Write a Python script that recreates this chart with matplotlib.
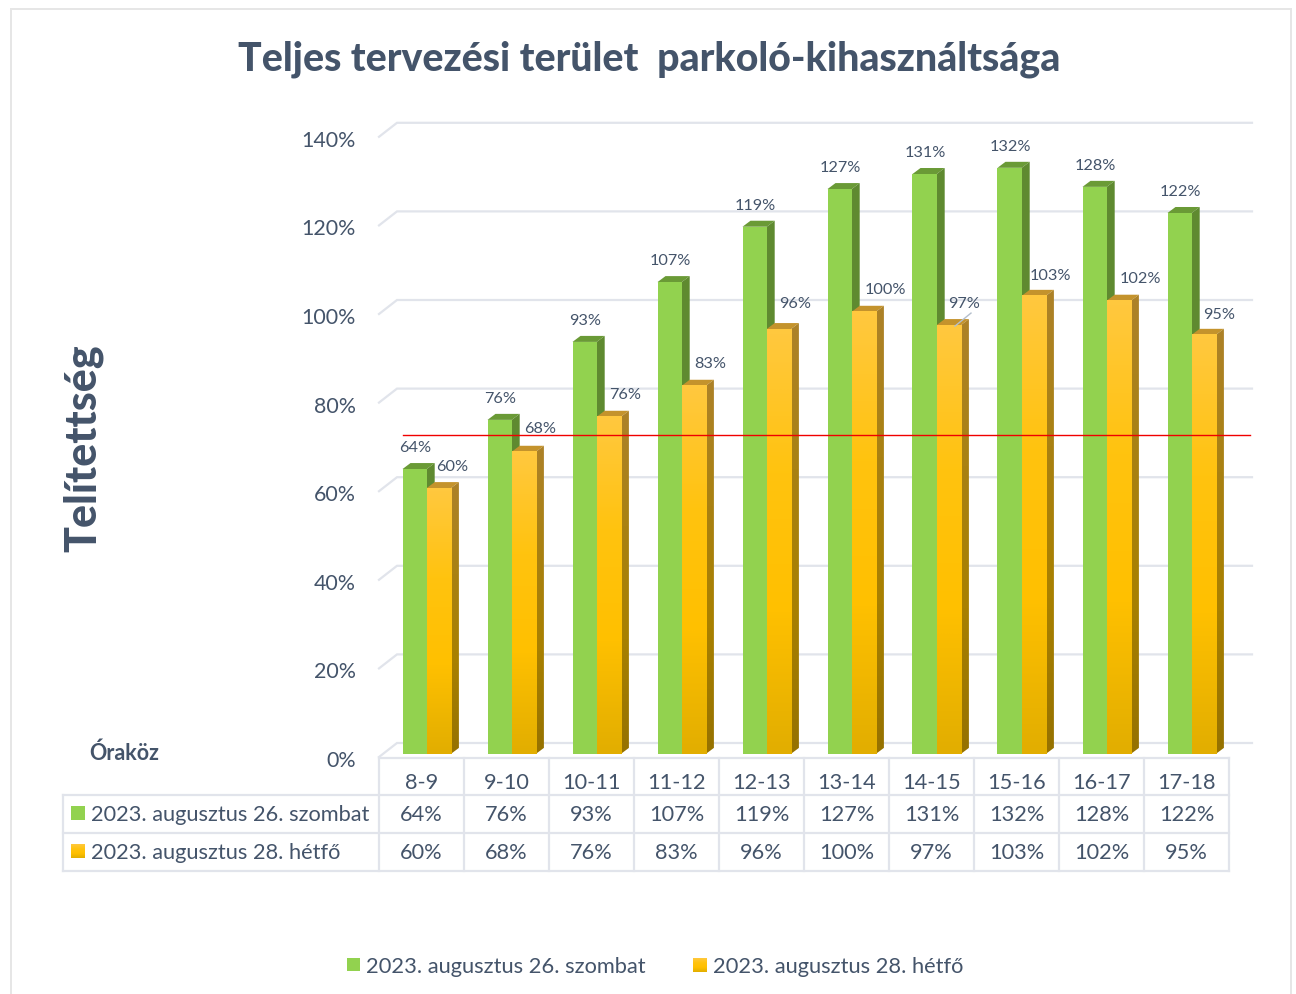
import matplotlib
matplotlib.use("Agg")
import matplotlib.pyplot as plt
import numpy as np
from matplotlib.colors import LinearSegmentedColormap
from matplotlib.patches import Polygon
from matplotlib.transforms import ScaledTranslation

plt.rcParams['font.family'] = ['Lato', 'DejaVu Sans']

hours = ["8-9", "9-10", "10-11", "11-12", "12-13", "13-14", "14-15", "15-16", "16-17", "17-18"]
# printed values
saturday = [64, 76, 93, 107, 119, 127, 131, 132, 128, 122]
monday = [60, 68, 76, 83, 96, 100, 97, 103, 102, 95]
# bar heights
saturday_bars = [64.0, 75.1, 92.7, 106.2, 118.7, 127.2, 130.6, 132.0, 127.7, 121.8]
monday_bars = [59.7, 67.9, 75.8, 82.8, 95.6, 99.5, 96.5, 103.1, 102.0, 94.3]
y_ticks = [0, 20, 40, 60, 80, 100, 120, 140]
limit_line = 72.7

sat_name = "2023. augusztus 26. szombat"
mon_name = "2023. augusztus 28. hétfő"

W, H = 1296, 995
TEXT = "#44546A"
GRID = "#E1E4EB"
GREEN = "#92D24F"

# layout of the fake 3D chart, in pixels of the picture
PX_CAT = 85.0
PX_Y = 4.43
LEFT, BOTTOM, RIGHT, TOP = 379, 758, 1252, 115

yellow_front = LinearSegmentedColormap.from_list("yf", ["#FFC83E", "#FFC30F", "#FFC000", "#E2AE00"])
yellow_side = LinearSegmentedColormap.from_list("ys", ["#AD8228", "#A98112", "#A88000", "#967200"])

fig = plt.figure(figsize=(W / 100, H / 100), dpi=100)

# page layer in pixel coordinates, for frame, table and legend
page = fig.add_axes([0, 0, 1, 1], zorder=0)
page.set_xlim(0, W)
page.set_ylim(H, 0)
page.axis("off")

ax = fig.add_axes([LEFT / W, 1 - BOTTOM / H, (RIGHT - LEFT) / W, (BOTTOM - TOP) / H], zorder=1)
ax.patch.set_alpha(0)
for s in ax.spines.values():
	s.set_visible(False)

x_min = -0.5
x_max = x_min + (RIGHT - LEFT) / PX_CAT
y_max = (BOTTOM - TOP) / PX_Y
depth_x = 8 / PX_CAT
depth_y = 6 / PX_Y
floor = 1.0
base = 0.7
wall_x = 18 / PX_CAT
wall_y = 14 / PX_Y
bar_w = 24.2 / PX_CAT


def gradient_fill(axis, x0, x1, y0, y1, cmap, clip=None, zorder=3):
	grad = np.linspace(0, 1, 64).reshape(-1, 1)
	extent = (x0, x1, y0, y1)
	im = axis.imshow(grad, cmap=cmap, extent=extent, aspect="auto", origin="upper",
		interpolation="bilinear", zorder=zorder)
	if clip is not None:
		im.set_clip_path(clip)
	return im


def draw_bar(x, value, front, side, top, use_gradient, zorder):
	y1 = value + floor
	y0 = base
	side_pts = [(x + bar_w, y0), (x + bar_w + depth_x, y0 + depth_y),
		(x + bar_w + depth_x, y1 + depth_y), (x + bar_w, y1)]
	top_pts = [(x, y1), (x + depth_x, y1 + depth_y), (x + bar_w + depth_x, y1 + depth_y), (x + bar_w, y1)]
	ax.add_patch(Polygon(top_pts, facecolor=top, edgecolor="none", zorder=zorder))
	if use_gradient:
		side_poly = Polygon(side_pts, facecolor="none", edgecolor="none", zorder=zorder)
		ax.add_patch(side_poly)
		gradient_fill(ax, x + bar_w, x + bar_w + depth_x, y0, y1 + depth_y, yellow_side, side_poly, zorder)
		gradient_fill(ax, x, x + bar_w, y0, y1, yellow_front, None, zorder)
	else:
		ax.add_patch(Polygon(side_pts, facecolor=side, edgecolor="none", zorder=zorder))
		ax.fill_between([x, x + bar_w], y0, y1, color=front, lw=0, zorder=zorder)


# back wall and floor
for v in y_ticks:
	ax.plot([x_min, x_min + wall_x, x_max], [v, v + wall_y, v + wall_y], color=GRID, lw=1.6, zorder=1,
		clip_on=False, solid_joinstyle="miter")

for i in range(len(hours)):
	green_x = i - 19 / PX_CAT
	yellow_x = green_x + bar_w
	draw_bar(green_x, saturday_bars[i], GREEN, "#5F8A30", "#6A9A36", False, 3 + i * 0.1)
	draw_bar(yellow_x, monday_bars[i], None, None, "#C4932C", True, 3.05 + i * 0.1)

# data labels
mon_label_dx = [13, 16, 16, 16, 16, 21, 15, 16, 21, 15]
mon_label_dy = [23, 24, 23, 23, 27, 23, 23, 22, 23, 22]
for i in range(len(hours)):
	gx = i - 6.5 / PX_CAT
	ax.text(gx, saturday_bars[i] + floor + 22 / PX_Y, f"{saturday[i]}%", ha="center", va="center",
		fontsize=11.7, color=TEXT, zorder=6)
	yx = gx + bar_w + mon_label_dx[i] / PX_CAT
	ax.text(yx, monday_bars[i] + floor + (mon_label_dy[i] - 0.7) / PX_Y, f"{monday[i]}%", ha="center", va="center",
		fontsize=11.7, color=TEXT, zorder=6)

# leader line of the 97% label
ax.plot([6 + 23.5 / PX_CAT, 6 + 39.5 / PX_CAT],
	[monday_bars[6] + floor - 1 / PX_Y, monday_bars[6] + floor + 12 / PX_Y],
	color="#B4BFCC", lw=1.0, zorder=6)

# red limit line
ax.plot([x_min + 24 / PX_CAT, x_min + 871 / PX_CAT], [limit_line, limit_line], color="#F00000", lw=1.0, zorder=7)

ax.set_xlim(x_min, x_max)
ax.set_ylim(0, y_max)
ax.set_xticks([])
ax.set_yticks(y_ticks)
ax.set_yticklabels([f"{v}%" for v in y_ticks], fontsize=15.4, color=TEXT)
ax.tick_params(axis="y", length=0, pad=16.5)
shift = ScaledTranslation(0, -1.0 / 100, fig.dpi_scale_trans)
for lab in ax.get_yticklabels():
	lab.set_transform(lab.get_transform() + shift)

# page frame
page.plot([11, 11], [H, 10], color="#E6E6E6", lw=1.4)
page.plot([11, 1291], [10, 10], color="#E6E6E6", lw=1.4)
page.plot([1291, 1291], [10, H], color="#E6E6E6", lw=1.4)

page.text(649, 59, "Teljes tervezési terület  parkoló-kihasználtsága", ha="center", va="center",
	fontsize=28.3, fontweight=900, color=TEXT)
page.text(83, 448.5, "Telítettség", rotation=90, ha="center", va="center",
	fontsize=31, fontweight=900, color=TEXT)
page.text(89, 753, "Óraköz", ha="left", va="center", fontsize=15.5, fontweight="bold", color=TEXT)

# data table under the chart
col_x = [LEFT + PX_CAT * i for i in range(len(hours) + 1)]
row_y = [758.7, 795.7, 833.7, 871.7]
page.plot([col_x[0], col_x[-1]], [row_y[0], row_y[0]], color=GRID, lw=1.6)
for yy in row_y[1:]:
	page.plot([63, col_x[-1]], [yy, yy], color=GRID, lw=1.6)
for xx in col_x:
	page.plot([xx, xx], [row_y[0], row_y[-1]], color=GRID, lw=1.6)
page.plot([63, 63], [row_y[1], row_y[-1]], color=GRID, lw=1.6)

for i, name in enumerate(hours):
	cx = col_x[i] + PX_CAT / 2
	page.text(cx, 783, name, ha="center", va="center", fontsize=15.7, color=TEXT)
	page.text(cx, 815, f"{saturday[i]}%", ha="center", va="center", fontsize=15.7, color=TEXT)
	page.text(cx, 853, f"{monday[i]}%", ha="center", va="center", fontsize=15.7, color=TEXT)

page.fill_between([71, 85], 807, 821, color=GREEN, lw=0)
gradient_fill(page, 71, 85, 859, 845, yellow_front)
page.text(91, 815, sat_name, ha="left", va="center", fontsize=15.7, color=TEXT)
page.text(91, 853, mon_name, ha="left", va="center", fontsize=15.7, color=TEXT)

# legend
page.fill_between([347, 360], 959, 972, color=GREEN, lw=0)
page.text(366, 967, sat_name, ha="left", va="center", fontsize=15.75, color=TEXT)
gradient_fill(page, 693, 707, 973, 959, yellow_front)
page.text(713, 967, mon_name, ha="left", va="center", fontsize=15.75, color=TEXT)

page.set_xlim(0, W)
page.set_ylim(H, 0)

plt.savefig("out.png", dpi=100)
plt.close()
